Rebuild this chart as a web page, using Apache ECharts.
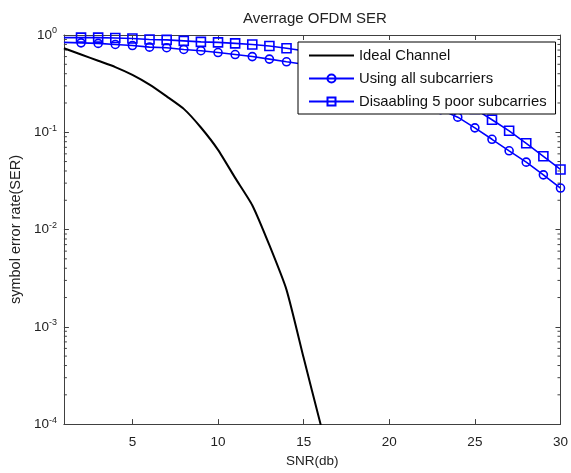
<!DOCTYPE html>
<html>
<head>
<meta charset="utf-8">
<script src="https://cdn.jsdelivr.net/npm/echarts@6/dist/echarts.min.js"></script>
<style>
  html, body { margin: 0; padding: 0; background: #fff; }
  #chart { width: 571px; height: 473px; }
</style>
</head>
<body>
<div id="chart"></div>
<script>
// SNR (dB) grid
const snr = [1, 2, 3, 4, 5, 6, 7, 8, 9, 10, 11, 12, 13, 14, 15, 16, 17, 18, 19, 20,
  21, 22, 23, 24, 25, 26, 27, 28, 29, 30]
// ideal channel, only down to ~1e-4 (snr 1..16)
const idealSer = [0.73, 0.63, 0.543, 0.468, 0.389, 0.309, 0.234, 0.174, 0.112, 0.066,
  0.034, 0.0178, 0.0069, 0.0024, 0.00048, 0.000098]
// using all subcarriers (circles)
const allSubSer = [0.84, 0.83, 0.82, 0.80, 0.78, 0.75, 0.74, 0.71, 0.69, 0.66,
  0.63, 0.60, 0.565, 0.53, 0.50, 0.47, 0.43, 0.39, 0.35, 0.31,
  0.26, 0.215, 0.171, 0.143, 0.111, 0.0847, 0.0645, 0.0493, 0.0365, 0.0267]
// disabling 5 poor subcarriers (squares)
const disableSer = [0.94, 0.94, 0.94, 0.93, 0.92, 0.90, 0.89, 0.87, 0.85, 0.84,
  0.82, 0.80, 0.77, 0.73, 0.69, 0.65, 0.61, 0.56, 0.51, 0.46,
  0.40, 0.34, 0.28, 0.22, 0.174, 0.1345, 0.1035, 0.077, 0.0566, 0.0415]

const xTicks = [5, 10, 15, 20, 25, 30]
const yTicks = [0.0001, 0.001, 0.01, 0.1, 1]
const minorMantissa = [2, 3, 4, 5, 6, 7, 8, 9]
const minorDecades = [0.0001, 0.001, 0.01, 0.1]

const xMin = 1
const xMax = 30
const font = 'Liberation Sans, Arial, sans-serif'
const blue = '#0000ff'
const axisColor = '#404040'

const minorTicks = []
minorDecades.forEach(d => minorMantissa.forEach(m => minorTicks.push(m * d)))

function pairs(ys, hideFirst) {
  return ys.map((y, i) => {
    const item = { value: [snr[i], y] }
    if (hideFirst && i === 0) item.symbol = 'none'
    return item
  })
}

const chart = echarts.init(document.getElementById('chart'))

const tickCommon = { show: true, inside: true, length: 5, lineStyle: { color: axisColor } }

chart.setOption({
  animation: false,
  textStyle: { fontFamily: font },
  title: {
    // centred over the plot area, not the canvas
    text: 'Averrage OFDM SER',
    left: 238,
    top: 6,
    textStyle: { fontFamily: font, fontSize: 15, fontWeight: 'normal', color: '#222' }
  },
  grid: { left: 58, right: 7, top: 35, bottom: 41 },
  legend: {
    orient: 'vertical',
    left: 298,
    top: 42,
    padding: [6, 9, 5, 10],
    itemGap: 8,
    itemWidth: 45,
    itemHeight: 10,
    backgroundColor: '#fff',
    borderColor: '#000',
    borderWidth: 1,
    borderRadius: 0,
    textStyle: { fontFamily: font, fontSize: 14.8, color: '#111' },
    data: [
      { name: 'Ideal Channel', itemStyle: { color: 'rgba(0,0,0,0)', borderWidth: 0, opacity: 0 } },
      'Using all subcarriers',
      'Disaabling 5 poor subcarries'
    ]
  },
  xAxis: [
    {
      type: 'value',
      min: xMin,
      max: xMax,
      name: 'SNR(db)',
      nameLocation: 'middle',
      nameGap: 29,
      nameTextStyle: { fontFamily: font, fontSize: 13.5, color: '#222' },
      axisLine: { lineStyle: { color: axisColor, width: 1 } },
      axisTick: Object.assign({ customValues: xTicks }, tickCommon),
      axisLabel: { customValues: xTicks, margin: 11, fontFamily: font, fontSize: 13.5, color: '#222' },
      splitLine: { show: false }
    },
    {
      type: 'value',
      position: 'top',
      min: xMin,
      max: xMax,
      axisLine: { lineStyle: { color: axisColor, width: 1 } },
      axisTick: Object.assign({ customValues: xTicks }, tickCommon),
      axisLabel: { show: false },
      splitLine: { show: false }
    }
  ],
  yAxis: [
    {
      type: 'log',
      logBase: 10,
      min: 0.0001,
      max: 1,
      name: 'symbol error rate(SER)',
      nameLocation: 'middle',
      nameGap: 37,
      nameTextStyle: { fontFamily: font, fontSize: 14.5, color: '#222' },
      axisLine: { show: true, lineStyle: { color: axisColor, width: 1 } },
      axisTick: Object.assign({ customValues: yTicks }, tickCommon),
      axisLabel: {
        customValues: yTicks,
        margin: 7,
        fontFamily: font,
        fontSize: 13.5,
        color: '#222',
        formatter: v => '10{sup|' + Math.round(Math.log10(v)) + '}',
        rich: { sup: { fontFamily: font, fontSize: 9, color: '#222', padding: [0, 0, 8, 0] } }
      },
      splitLine: { show: false }
    },
    {
      type: 'log',
      logBase: 10,
      position: 'right',
      min: 0.0001,
      max: 1,
      axisLine: { show: true, lineStyle: { color: axisColor, width: 1 } },
      axisTick: Object.assign({ customValues: yTicks }, tickCommon),
      axisLabel: { show: false },
      splitLine: { show: false }
    }
  ],
  series: [
    {
      // minor log ticks on left and right sides
      type: 'custom',
      silent: true,
      z: 1,
      data: minorTicks,
      renderItem(params, api) {
        const v = api.value(0)
        const l = api.coord([xMin, v])
        const r = api.coord([xMax, v])
        const style = { stroke: axisColor, lineWidth: 1 }
        return {
          type: 'group',
          children: [
            { type: 'line', shape: { x1: l[0], y1: l[1], x2: l[0] + 3, y2: l[1] }, style },
            { type: 'line', shape: { x1: r[0], y1: r[1], x2: r[0] - 3, y2: r[1] }, style }
          ]
        }
      },
      encode: { y: 0 }
    },
    {
      name: 'Ideal Channel',
      type: 'line',
      data: pairs(idealSer, false),
      symbol: 'none',
      clip: true,
      smooth: 0.2,
      lineStyle: { color: '#000', width: 2 },
      itemStyle: { color: '#000' }
    },
    {
      name: 'Using all subcarriers',
      type: 'line',
      data: pairs(allSubSer, true),
      symbol: 'circle',
      symbolSize: 8,
      lineStyle: { color: blue, width: 1.6 },
      itemStyle: { color: 'rgba(0,0,0,0)', borderColor: blue, borderWidth: 1.6 }
    },
    {
      name: 'Disaabling 5 poor subcarries',
      type: 'line',
      data: pairs(disableSer, true),
      symbol: 'rect',
      symbolSize: 9,
      lineStyle: { color: blue, width: 1.6 },
      itemStyle: { color: 'rgba(0,0,0,0)', borderColor: blue, borderWidth: 1.6 }
    }
  ]
})
</script>
</body>
</html>
